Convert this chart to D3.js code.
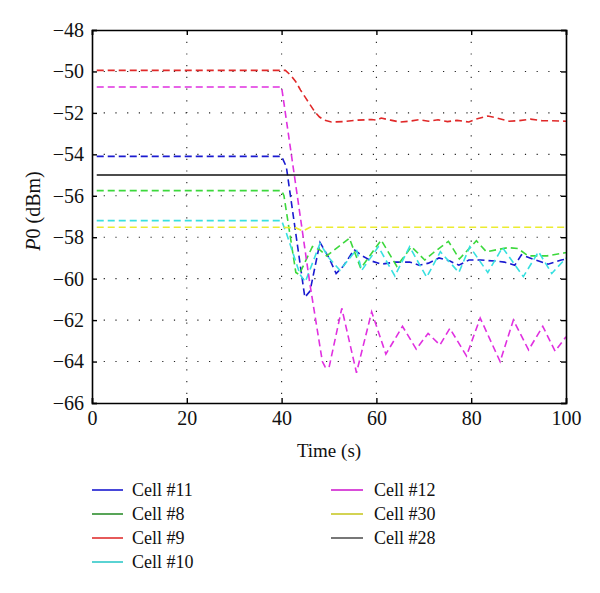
<!DOCTYPE html>
<html>
<head>
<meta charset="utf-8">
<script src="https://cdn.jsdelivr.net/npm/d3@7"></script>
<style>
  html, body { margin: 0; padding: 0; background: #fff; }
  svg { display: block; }
  text { font-family: "Liberation Serif", "DejaVu Serif", serif; fill: #111; }
</style>
</head>
<body>
<svg id="chart" width="600" height="593"></svg>
<script>
// ---- Data ----
const xTicks = [0, 20, 40, 60, 80, 100];
const yTicks = [-66, -64, -62, -60, -58, -56, -54, -52, -50, -48];

const cell11T = [1, 40, 41, 44.9, 46, 48.1, 50, 51.5, 53, 55.3, 57, 59, 61, 64, 67, 69, 71, 73.2, 75.5, 77.4, 79.5, 82, 85, 87, 89.2, 90.6, 93, 96.2, 99, 100];
const cell11V = [-54.1, -54.1, -54.6, -60.9, -60.6, -58.25, -59.0, -59.75, -59.4, -58.6, -58.9, -59.15, -59.3, -59.2, -59.2, -59.35, -59.25, -59.0, -59.15, -59.35, -59.1, -59.1, -59.15, -59.2, -59.35, -58.85, -59.05, -59.3, -59.1, -59.05];

const cell8T = [1, 40, 40.5, 43, 43.7, 46.5, 48, 49.5, 54.3, 56.7, 61, 64.3, 67.4, 70.2, 72, 75.2, 77.5, 81.1, 83.2, 87.8, 89.9, 92, 96, 99.8, 100];
const cell8V = [-55.75, -55.75, -56.0, -59.7, -59.8, -58.45, -58.6, -58.9, -58.05, -59.5, -58.14, -59.4, -58.46, -59.1, -58.75, -58.2, -59.05, -58.17, -58.7, -58.5, -58.55, -58.9, -58.9, -58.75, -58.75];

const cell9T = [1, 40, 40.8, 42, 43, 44, 45, 46, 47, 48, 49, 50.5, 53, 56, 59, 60, 61, 63, 65, 67, 69, 71, 73, 75, 77, 79.5, 81, 83.5, 85, 88, 90, 92.5, 95, 97, 100];
const cell9V = [-49.95, -49.95, -49.95, -50.2, -50.5, -50.9, -51.25, -51.6, -51.95, -52.2, -52.35, -52.44, -52.42, -52.35, -52.32, -52.35, -52.25, -52.35, -52.44, -52.4, -52.33, -52.4, -52.33, -52.42, -52.36, -52.44, -52.3, -52.15, -52.22, -52.4, -52.38, -52.3, -52.38, -52.38, -52.4];

const cell10T = [1, 40, 41, 43.9, 45, 48.1, 50, 52.3, 55.8, 56.9, 60.4, 63.9, 67, 70.6, 73.5, 77.4, 79.7, 83.5, 86.6, 91, 94.2, 97, 100];
const cell10V = [-57.2, -57.2, -57.8, -59.8, -60.15, -58.3, -59.0, -59.6, -58.6, -59.6, -58.46, -59.87, -58.46, -59.93, -58.7, -59.7, -58.46, -59.7, -58.5, -59.9, -58.7, -59.75, -59.0];

const cell12T = [1, 40, 43.5, 46, 48.6, 49.2, 50, 52.7, 55.8, 59, 62, 65.5, 68.4, 70.9, 73.4, 75.5, 79, 81.9, 86.1, 88.9, 92.1, 95.1, 97.7, 100];
const cell12V = [-50.75, -50.75, -56.3, -60.3, -64.0, -64.26, -64.3, -61.43, -64.54, -61.6, -63.64, -62.3, -63.4, -62.64, -63.2, -62.4, -63.73, -61.9, -64.0, -62.0, -63.44, -62.3, -63.5, -62.8];

const cell30T = [1, 40, 43, 44.5, 46, 100];
const cell30V = [-57.52, -57.52, -57.55, -57.7, -57.52, -57.52];

const cell28T = [1, 100];
const cell28V = [-55, -55];

const seriesNames = ["Cell #11", "Cell #8", "Cell #9", "Cell #10", "Cell #12", "Cell #30", "Cell #28"];
const lineColors = ["#1a1ad0", "#3cd83c", "#e02828", "#38e0e0", "#e030e0", "#ecec30", "#111111"];
const legendColors = ["#1a1ad0", "#2e8e2e", "#e03030", "#30c8c8", "#d020d0", "#c8c828", "#555555"];
const dashed = [true, true, true, true, true, true, false];

const seriesT = [cell11T, cell8T, cell9T, cell10T, cell12T, cell30T, cell28T];
const seriesV = [cell11V, cell8V, cell9V, cell10V, cell12V, cell30V, cell28V];

// ---- Chart ----
(function () {
const svg = d3.select("#chart");
const x = d3.scaleLinear().domain([0, 100]).range([92, 566]);
const y = d3.scaleLinear().domain([-66, -48]).range([403, 30]);
const fmt = d => d < 0 ? "\u2212" + Math.abs(d) : String(d);

// grid
const grid = svg.append("g");
grid.selectAll("line.gx").data(xTicks.slice(1, -1)).join("line")
  .attr("x1", d => x(d)).attr("x2", d => x(d)).attr("y1", y(-48)).attr("y2", y(-66))
  .attr("stroke", "#222").attr("stroke-width", 1.1).attr("stroke-dasharray", "1.2,10.5");
grid.selectAll("line.gy").data(yTicks.slice(1, -1)).join("line")
  .attr("y1", d => y(d)).attr("y2", d => y(d)).attr("x1", x(0)).attr("x2", x(100))
  .attr("stroke", "#222").attr("stroke-width", 1.1).attr("stroke-dasharray", "1.2,10.5");

// series lines
const line = d3.line().x(d => x(d[0])).y(d => y(d[1]));
seriesNames.forEach((name, i) => {
  const pts = seriesT[i].map((t, j) => [t, seriesV[i][j]]);
  svg.append("path").datum(pts)
    .attr("d", line)
    .attr("fill", "none")
    .attr("stroke", lineColors[i])
    .attr("stroke-width", dashed[i] ? 1.6 : 1.4)
    .attr("stroke-dasharray", dashed[i] ? "7,4" : null);
});

// axes (inward ticks on all four sides)
const axFont = 20;
const axB = svg.append("g").attr("transform", `translate(0,${y(-66)})`)
  .call(d3.axisBottom(x).tickValues(xTicks).tickSize(-5).tickPadding(8).tickFormat(fmt));
const axT = svg.append("g").attr("transform", `translate(0,${y(-48)})`)
  .call(d3.axisTop(x).tickValues(xTicks).tickSize(-5).tickFormat(""));
const axL = svg.append("g").attr("transform", `translate(${x(0)},0)`)
  .call(d3.axisLeft(y).tickValues(yTicks).tickSize(-5).tickPadding(8).tickFormat(fmt));
const axR = svg.append("g").attr("transform", `translate(${x(100)},0)`)
  .call(d3.axisRight(y).tickValues(yTicks).tickSize(-5).tickFormat(""));
[axB, axT, axL, axR].forEach(g => {
  g.selectAll(".domain").attr("stroke", "#000").attr("stroke-width", 1.6);
  g.selectAll(".tick line").attr("stroke", "#000").attr("stroke-width", 1.4);
  g.selectAll("text").attr("font-family", "Liberation Serif, DejaVu Serif, serif")
    .attr("font-size", axFont).attr("fill", "#111");
});

// axis titles
svg.append("text").attr("x", x(50)).attr("y", 457).attr("text-anchor", "middle")
  .attr("font-size", 19).text("Time (s)");
const yl = svg.append("text").attr("transform", "translate(40,211) rotate(-90)")
  .attr("text-anchor", "middle").attr("font-size", 20);
yl.append("tspan").attr("font-style", "italic").text("P");
yl.append("tspan").text("0 (dBm)");

// legend
const legCols = [[92, 123, 132], [331, 363, 374]];
const legRows = [490, 514, 538, 562];
const legItems = seriesNames.map((n, i) => ({ n, i, col: i < 4 ? 0 : 1, row: i < 4 ? i : i - 4 }));
const leg = svg.append("g").selectAll("g").data(legItems).join("g");
leg.append("line")
  .attr("x1", d => legCols[d.col][0]).attr("x2", d => legCols[d.col][1])
  .attr("y1", d => legRows[d.row]).attr("y2", d => legRows[d.row])
  .attr("stroke", d => legendColors[d.i]).attr("stroke-width", 1.6);
leg.append("text")
  .attr("x", d => legCols[d.col][2]).attr("y", d => legRows[d.row] + 6)
  .attr("font-size", 18).text(d => d.n);
})();
</script>
</body>
</html>
